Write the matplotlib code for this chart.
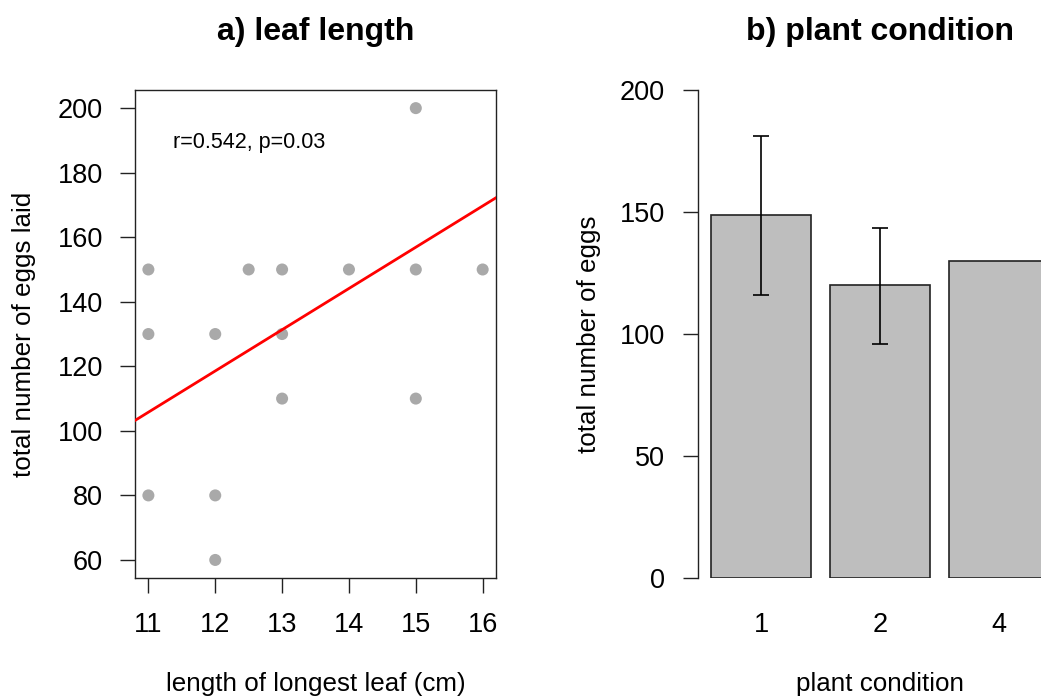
import matplotlib
matplotlib.use("Agg")
import matplotlib.pyplot as plt
import numpy as np

plt.rcParams['font.family'] = ['Liberation Sans', 'DejaVu Sans']

# ---- data: panel a ----
leaf_length = [11, 11, 11, 12, 12, 12, 12.5, 13, 13, 13, 14, 15, 15, 15, 16]
eggs_laid = [150, 130, 80, 130, 80, 60, 150, 150, 130, 110, 150, 200, 150, 110, 150]
fit_intercept = -34.8
fit_slope = 12.78
stats_label = "r=0.542, p=0.03"
x_ticks_a = [11, 12, 13, 14, 15, 16]
y_ticks_a = [60, 80, 100, 120, 140, 160, 180, 200]

# ---- data: panel b ----
conditions = ["1", "2", "4"]
mean_eggs = [148.7, 120.3, 129.8]
err_upper = [181.1, 143.3, np.nan]
err_lower = [116.2, 96.1, np.nan]
y_ticks_b = [0, 50, 100, 150, 200]

fig = plt.figure(figsize=(10.41, 6.97), dpi=100)

tick_fs = 19.5
label_fs = 18.7
title_fs = 23

# ---------- panel a ----------
ax1 = fig.add_axes([0.1297, 0.1707, 0.3468, 0.7001])
ax1.scatter(leaf_length, eggs_laid, s=75, color='#A9A9A9', edgecolors='none', zorder=3)
xl = (10.8, 16.2)
ax1.plot(xl, [fit_intercept + fit_slope * v for v in xl], color='#FF0000', lw=2, zorder=4)
ax1.set_xlim(*xl)
ax1.set_ylim(54.4, 205.6)
ax1.set_xticks(x_ticks_a)
ax1.set_yticks(y_ticks_a)
ax1.tick_params(axis='both', length=10.5, width=1, labelsize=tick_fs, color='#222222')
ax1.tick_params(axis='x', pad=14)
ax1.tick_params(axis='y', pad=12.5)
for s in ax1.spines.values():
    s.set_linewidth(1)
    s.set_color('#222222')
ax1.text(12.5, 189.5, stats_label, ha='center', va='center', fontsize=15.5)
ax1.set_xlabel("length of longest leaf (cm)", fontsize=label_fs, labelpad=24.5)
ax1.set_ylabel("total number of eggs laid", fontsize=label_fs, labelpad=15.5)
ax1.set_title("a) leaf length", fontsize=title_fs, fontweight='bold', pad=36)

# ---------- panel b ----------
ax2 = fig.add_axes([0.6705, 0.1707, 0.3497, 0.7001])
xpos = [0.7, 1.9, 3.1]
ax2.bar(xpos, mean_eggs, width=1.0, color='#BEBEBE', edgecolor='#222222', linewidth=1.2, zorder=2)
for xp, lo, hi in zip(xpos, err_lower, err_upper):
    if np.isnan(lo):
        continue
    ax2.errorbar([xp], [(lo + hi) / 2], yerr=[[(hi - lo) / 2], [(hi - lo) / 2]], fmt='none',
                 ecolor='black', elinewidth=1.2, capsize=5.5, capthick=1.2, zorder=3)
ax2.set_xlim(0.064, 3.736)
ax2.set_ylim(0, 200)
ax2.set_xticks(xpos)
ax2.set_xticklabels(conditions)
ax2.set_yticks(y_ticks_b)
for side in ['top', 'right', 'bottom']:
    ax2.spines[side].set_visible(False)
ax2.spines['left'].set_linewidth(1)
ax2.spines['left'].set_color('#222222')
ax2.tick_params(axis='x', length=0, pad=24.5, labelsize=tick_fs)
ax2.tick_params(axis='y', length=10.5, width=1, pad=13.5, labelsize=tick_fs, color='#222222')
ax2.set_xlabel("plant condition", fontsize=label_fs, labelpad=24.5)
ax2.set_ylabel("total number of eggs", fontsize=label_fs, labelpad=13.5)
ax2.set_title("b) plant condition", fontsize=title_fs, fontweight='bold', pad=36)

fig.savefig("out.png", dpi=100)
